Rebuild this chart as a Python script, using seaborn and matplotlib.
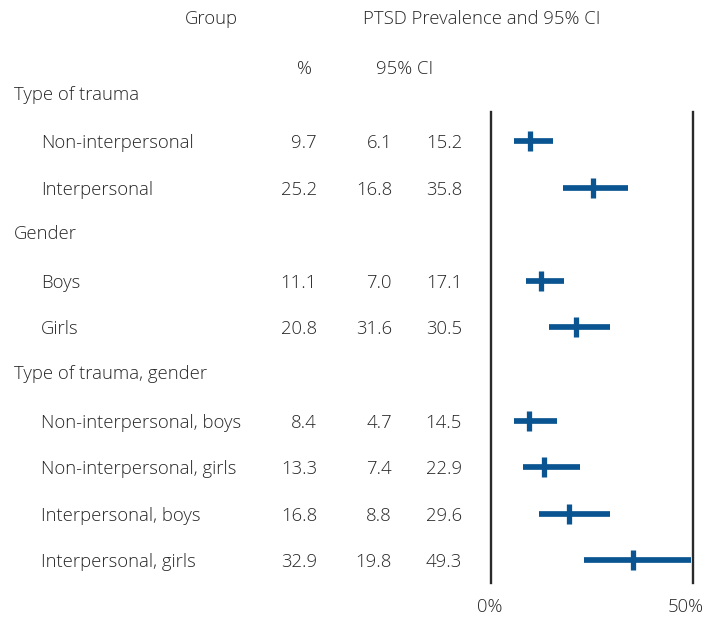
import matplotlib
matplotlib.use("Agg")
import matplotlib.pyplot as plt
import matplotlib.transforms as mtransforms
import seaborn as sns
import pandas as pd

# ---- data ----
headers = ["Type of trauma", "Gender", "Type of trauma, gender"]
groups = [
    "Non-interpersonal", "Interpersonal",
    "Boys", "Girls",
    "Non-interpersonal, boys", "Non-interpersonal, girls",
    "Interpersonal, boys", "Interpersonal, girls",
]
group_header = [0, 0, 1, 1, 2, 2, 2, 2]
# table values as printed
pct_text = ["9.7", "25.2", "11.1", "20.8", "8.4", "13.3", "16.8", "32.9"]
ci_low_text = ["6.1", "16.8", "7.0", "31.6", "4.7", "7.4", "8.8", "19.8"]
ci_high_text = ["15.2", "35.8", "17.1", "30.5", "14.5", "22.9", "29.6", "49.3"]
# values of the plotted marks
est = [9.75, 25.2, 12.4, 21.1, 9.5, 13.1, 19.4, 35.3]
low = [5.8, 17.9, 8.6, 14.5, 5.8, 8.0, 12.0, 23.1]
high = [15.4, 34.0, 18.2, 29.6, 16.4, 22.1, 29.5, 49.5]
xticks = [0, 50]
xtick_labels = ["0%", "50%"]

# ---- layout: slots (one line per header / row) ----
slots = []
header_slots = []
k = 0
prev = None
for g in group_header:
    if g != prev:
        header_slots.append(k)
        k += 1
        prev = g
    slots.append(k)
    k += 1

df = pd.DataFrame({"group": groups, "est": est, "low": low, "high": high, "slot": slots})

sns.set_theme(style="white")
FONT = ["Open Sans", "DejaVu Sans"]
plt.rcParams["font.family"] = FONT
TXT = "#262626"
BLUE = "#0a5591"
FS = 13.3
FW = "light"

W, H = 705, 621
fig = plt.figure(figsize=(W / 100, H / 100), dpi=100)

x0, x1 = 491, 692.7
ytop, ybot = 112, 583
ax = fig.add_axes([x0 / W, 1 - ybot / H, (x1 - x0) / W, (ybot - ytop) / H])

# slot -> pixel: y = a + b*k
a, b = 94.4, 46.6
ax.set_ylim((ybot - a) / b, (ytop - a) / b)
ax.set_xlim(0, 50)

ax.hlines(df["slot"], df["low"], df["high"], color=BLUE, linewidth=4.1, capstyle="butt")
sns.scatterplot(data=df, x="est", y="slot", marker="|", s=190, linewidth=3.8,
                color=BLUE, ax=ax, legend=False, zorder=3)

for side in ["top", "bottom"]:
    ax.spines[side].set_visible(False)
for side in ["left", "right"]:
    ax.spines[side].set_visible(True)
    ax.spines[side].set_color("#2a2a2a")
    ax.spines[side].set_linewidth(1.7)
ax.set_xticks([])
ax.set_yticks([])
ax.set_xlabel("")
ax.set_ylabel("")

# x tick labels
tr_lab = mtransforms.blended_transform_factory(ax.transData, fig.transFigure)
offsets = [-1, -7]
for xv, lab, off in zip(xticks, xtick_labels, offsets):
    t = tr_lab + mtransforms.ScaledTranslation(off / 100, 0, fig.dpi_scale_trans)
    fig.text(xv, 1 - 607 / H, lab, transform=t, ha="center", va="center",
             fontsize=FS, color=TXT, fontweight=FW)

# table text (shifted 2 px down so the cap-height centre sits on the row)
tr = mtransforms.blended_transform_factory(fig.transFigure, ax.transData) + \
    mtransforms.ScaledTranslation(0, -2 / 100, fig.dpi_scale_trans)
kw = dict(transform=tr, va="center", fontsize=FS, color=TXT, clip_on=False, fontweight=FW)
for hs, h in zip(header_slots, headers):
    ax.text(14 / W, hs - 0.04, h, ha="left", **kw)
for s, g, p, lo, hi in zip(slots, groups, pct_text, ci_low_text, ci_high_text):
    ax.text(41 / W, s, g, ha="left", **kw)
    ax.text(317 / W, s, p, ha="right", **kw)
    ax.text(392 / W, s, lo, ha="right", **kw)
    ax.text(462 / W, s, hi, ha="right", **kw)

# column headers
hk = dict(ha="center", va="center", fontsize=FS, color=TXT, fontweight=FW)
fig.text(211 / W, 1 - 19 / H, "Group", **hk)
fig.text(482 / W, 1 - 19 / H, "PTSD Prevalence and 95% CI", **hk)
fig.text(304 / W, 1 - 69 / H, "%", **hk)
fig.text(405 / W, 1 - 69 / H, "95% CI", **hk)

fig.savefig("out.png", dpi=100, facecolor="white")
